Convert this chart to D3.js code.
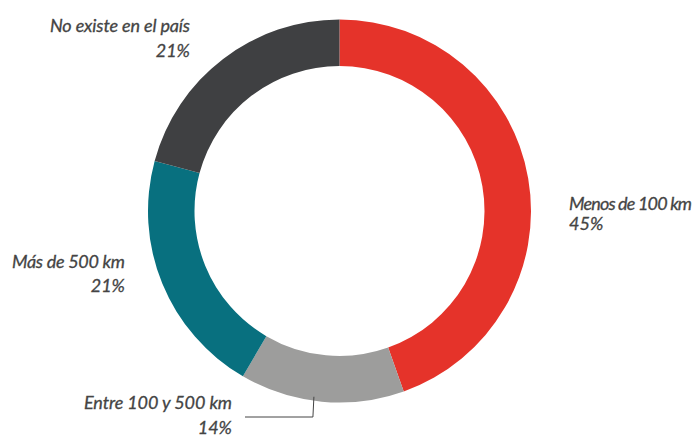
<!DOCTYPE html>
<html><head><meta charset="utf-8">
<script src="https://cdn.jsdelivr.net/npm/d3@7"></script>
<style>body{margin:0;background:#fff}</style>
</head><body><svg id="c" width="695" height="437"></svg>
<script>
const categories = ["Menos de 100 km", "Entre 100 y 500 km", "Más de 500 km", "No existe en el país"];
const values = [45, 14, 21, 21];
const valueLabels = ["45%", "14%", "21%", "21%"];
const colors = ["#E5332A", "#9D9D9C", "#08707F", "#3F4042"];

const svg = d3.select("#c");
const cx = 339.5, cy = 211, rOuter = 191.5, rInner = 145;
const g = svg.append("g").attr("transform", `translate(${cx},${cy})`);
const pie = d3.pie().sort(null).value(d => d);
const arc = d3.arc().innerRadius(rInner).outerRadius(rOuter);
const arcs = pie(values);
g.selectAll("path").data(arcs).join("path")
  .attr("d", arc).attr("fill", (d, i) => colors[i]);

// label placement (layout only)
const labelPos = [
  {x: 569, y1: 210, y2: 230, anchor: "start", w: 123},
  {x: 232, y1: 409, y2: 434, anchor: "end", w: 148},
  {x: 125, y1: 268, y2: 292, anchor: "end", w: 113},
  {x: 190, y1: 32, y2: 57, anchor: "end", w: 140}
];
const lab = svg.append("g").attr("font-family", "Lato, 'Open Sans', sans-serif")
  .attr("font-style", "italic").attr("font-size", 18).attr("fill", "#444")
  .attr("stroke", "#444").attr("stroke-width", 0.3);
categories.forEach((c, i) => {
  const p = labelPos[i];
  lab.append("text").attr("x", p.x).attr("y", p.y1).attr("text-anchor", p.anchor)
    .attr("textLength", p.w).attr("lengthAdjust", "spacing").text(c);
  lab.append("text").attr("x", p.x).attr("y", p.y2).attr("text-anchor", p.anchor)
    .text(valueLabels[i]);
});

// leader line for the small grey slice
const a = arcs[1];
const ang = a.startAngle + 0.55 * (a.endAngle - a.startAngle);
const px = cx + Math.sin(ang) * (rOuter - 4);
const py = cy - Math.cos(ang) * (rOuter - 4);
svg.append("path")
  .attr("d", `M${px},${py} L${px - 1},417 L245,417`)
  .attr("fill", "none").attr("stroke", "#444").attr("stroke-width", 1);
</script></body></html>
